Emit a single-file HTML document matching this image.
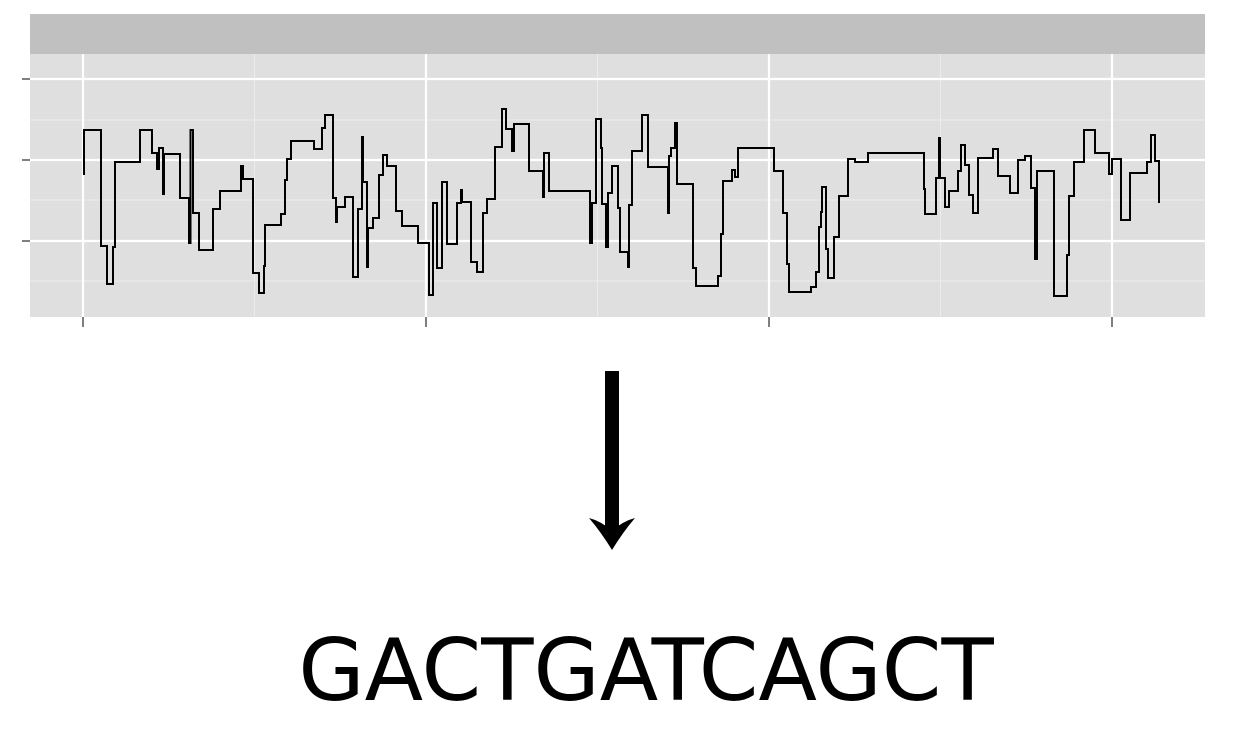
<!DOCTYPE html>
<html><head><meta charset="utf-8"><style>
body{margin:0;background:#fff;width:1241px;height:730px;overflow:hidden}
svg{display:block}
</style></head><body>
<svg width="1241" height="730">
<g id="chart">
<rect x="30" y="14" width="1175" height="40" fill="#c0c0c0"/>
<rect x="30" y="54" width="1175" height="263" fill="#dfdfdf"/>
<g id="grid"></g>
<g id="ticks"></g>
<path id="line" fill="none" stroke="#000" stroke-width="2"/>
</g>
<g>
<rect x="605" y="371" width="14" height="160" fill="#000"/>
<path d="M589,518 Q601,521 612,531 Q623,521 635,518 Q623,532 612,550 Q601,532 589,518 Z" fill="#000"/>
</g>
<text x="646" y="700" text-anchor="middle" font-family="DejaVu Sans, sans-serif" font-size="85.5" fill="#000">GACTGATCAGCT</text>
</svg>
<script>
const xTicks=[0,343,686,1029];
const xMinor=[171.5,514.5,857.5];
const yTicks=[-81,0,81];
const yMinor=[-121,-40,40];
const xs=[1,1,18,24,30,32,57,69,74,76,80,81,97,106,107.5,110,116,130,137,158,160,170,176,181,182,198,202,204,208,231,239,242,250,253,254,262,270,275,279,280,284,285,290,296,300,304,313,319,335,346,350,354,359,364,374,378,379,388,394,400,404,412,419,423,429,431,446,460,461,466,507,509,513,518,519,523,525,529,535,537,545,546,549,559,565,585,586,588,592,594,610,613,635,638,640,649,652,655,691,700,704,706,728,733,736,738,739,743,745,751,756,765,772,785,841,842,853,856,857,862,866,875,878,882,886,890,895,910,915,927,935,942,948,952,954,971,984,986,991,1001,1012,1026,1029,1038,1047,1064,1068,1072,1076];
const vals=[-15,30,-86,-124,-87,-2,30,7,-9,12,-34,6,-38,-83,30,-53,-90,-49,-31,-6,-19,-113,-133,-106,-65,-54,-20,1,19,11,32,45,-38,-62,-47,-37,-117,-49,23,-22,-107,-68,-58,-15,5,-6,-51,-66,-83,-135,-43,-108,-22,-84,-43,-30,-42,-102,-112,-53,-39,13,51,31,9,36,-11,-37,7,-31,-83,-43,41,12,-44,-87,-33,-6,-48,-92,-107,-45,9,45,-7,-53,4,12,37,-24,-108,-126,-116,-74,-21,-10,-17,12,-11,-53,-104,-132,-127,-112,-67,-52,-27,-89,-118,-77,-36,1,-2,7,-29,-54,-18,22,-18,-47,-31,-11,15,-5,-35,-53,2,11,-16,-33,0,4,-28,-99,-11,-136,-95,-36,-2,30,7,-14,1,-60,-13,-2,25,-1,-43];
const X=v=>83+v;
const Y=v=>160-v;
const ns='http://www.w3.org/2000/svg';
const grid=document.getElementById('grid');
const ticks=document.getElementById('ticks');
function ln(p,x1,y1,x2,y2,c,w){const l=document.createElementNS(ns,'line');l.setAttribute('x1',x1);l.setAttribute('y1',y1);l.setAttribute('x2',x2);l.setAttribute('y2',y2);l.setAttribute('stroke',c);l.setAttribute('stroke-width',w);p.appendChild(l);return l;}
yMinor.forEach(v=>{const l=ln(grid,30,Y(v),1205,Y(v),'#ececec',1);

});
xMinor.forEach(v=>{const l=ln(grid,X(v),54,X(v),317,'#ececec',1);

});
yTicks.forEach(v=>{const l=ln(grid,30,Y(v),1205,Y(v),'#fff',2.2);


const t=ln(ticks,22,Y(v),30,Y(v),'#7f7f7f',2);

});
xTicks.forEach(v=>{const l=ln(grid,X(v),54,X(v),317,'#fff',2.2);


const t=ln(ticks,X(v),317,X(v),327,'#7f7f7f',2);

});
let d='M'+X(xs[0])+','+Y(vals[0]);
for(let i=1;i<xs.length;i++){d+=' H'+X(xs[i])+' V'+Y(vals[i]);}
document.getElementById('line').setAttribute('d',d);
</script>
</body></html>
